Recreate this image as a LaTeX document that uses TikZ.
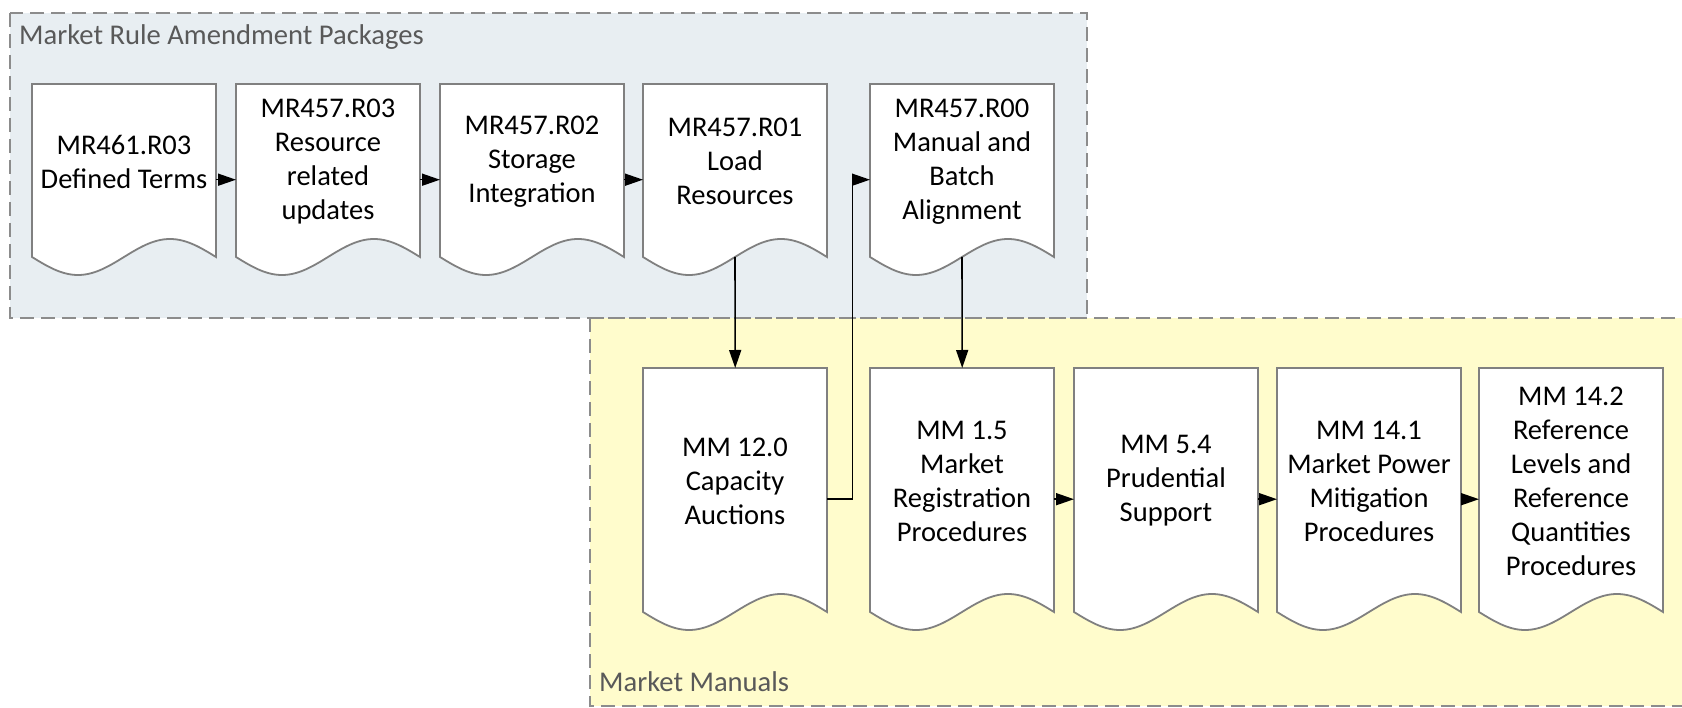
\documentclass[tikz,border=0pt]{standalone}
\usepackage{fontspec}
\setmainfont{Carlito}
\usetikzlibrary{arrows.meta}
\definecolor{topfill}{RGB}{232,238,242}
\definecolor{botfill}{RGB}{255,252,204}
\definecolor{dashgray}{RGB}{140,140,140}
\definecolor{docgray}{RGB}{128,128,128}
\definecolor{titlegray}{RGB}{89,89,89}
\tikzset{
  container/.style={draw=dashgray, line width=2.5pt, dash pattern=on 14pt off 7pt},
  docshape/.style={draw=docgray, fill=white, line width=1.8pt},
  doctext/.style={font=\fontsize{28.5}{34}\selectfont, align=center, text=black, inner sep=0},
  grouptitle/.style={font=\fontsize{28.6}{32}\selectfont, text=titlegray, inner sep=0, anchor=west},
  conn/.style={draw=black, line width=1.6pt, -{Triangle[length=18pt,width=12pt]}}
}
\newcommand\mydoc[5]{%
  \pgfmathsetmacro\dR{#2+184}%
  \pgfmathsetmacro\dB{#3+#4}%
  \pgfmathsetmacro\dQa{#2+46}\pgfmathsetmacro\dQb{#2+92}\pgfmathsetmacro\dQc{#2+138}%
  \pgfmathsetmacro\dBd{\dB+18}\pgfmathsetmacro\dBu{\dB-18}%
  \pgfmathsetmacro\dH{#4+18}%
  \pgfmathsetmacro\dTc{#3+(#4-18)/2}%
  \draw[docshape] (#2,#3) -- (\dR,#3) -- (\dR,\dB) sin (\dQc,\dBu) cos (\dQb,\dB) sin (\dQa,\dBd) cos (#2,\dB) -- cycle;
  \node[inner sep=0, minimum width=184, minimum height=\dH, anchor=north west] (#1) at (#2,#3) {};
  \coordinate (#1-w) at (\dQb,\dB);
  \node[doctext] (#1-t) at (\dQb,\dTc) {#5};
}
\begin{document}
\begin{tikzpicture}[x=1pt,y=-1pt]
\useasboundingbox (0,0) rectangle (1682,708);
\clip (0,0) rectangle (1682,708);
% containers
\path[fill=topfill] (10,13) rectangle (1087,318);
\path[fill=botfill] (590,318) rectangle (1700,706);
\draw[container] (10,13) rectangle (1087,318);
\draw[container] (590,318) rectangle (1700,706);
\node[grouptitle] (t1) at (19,37) {Market Rule Amendment Packages};
\node[grouptitle] (t2) at (599,682) {Market Manuals};
% top row
\mydoc{d1}{32}{84}{173}{MR461.R03\\Defined Terms}
\mydoc{d2}{236}{84}{173}{MR457.R03\\Resource\\related\\updates}
\mydoc{d3}{440}{84}{173}{MR457.R02\\Storage\\Integration}
\mydoc{d4}{643}{84}{173}{MR457.R01\\Load\\Resources}
\mydoc{d5}{870}{84}{173}{MR457.R00\\Manual and\\Batch\\Alignment}
% bottom row
\mydoc{m1}{643}{368}{244}{MM 12.0\\Capacity\\Auctions}
\mydoc{m2}{870}{368}{244}{MM 1.5\\Market\\Registration\\Procedures}
\mydoc{m3}{1074}{368}{244}{MM 5.4\\Prudential\\Support}
\mydoc{m4}{1277}{368}{244}{MM 14.1\\Market Power\\Mitigation\\Procedures}
\mydoc{m5}{1479}{368}{244}{MM 14.2\\Reference\\Levels and\\Reference\\Quantities\\Procedures}
% connectors
\draw[conn] (d1.east) -- (d2.west);
\draw[conn] (d2.east) -- (d3.west);
\draw[conn] (d3.east) -- (d4.west);
\draw[conn] (d4-w) -- (m1.north);
\draw[conn] (d5-w) -- (m2.north);
\draw[conn] (m1.east) -- ++(25,0) |- (d5.west);
\draw[conn] (m2.east) -- (m3.west);
\draw[conn] (m3.east) -- (m4.west);
\draw[conn] (m4.east) -- (m5.west);
\end{tikzpicture}
\end{document}
